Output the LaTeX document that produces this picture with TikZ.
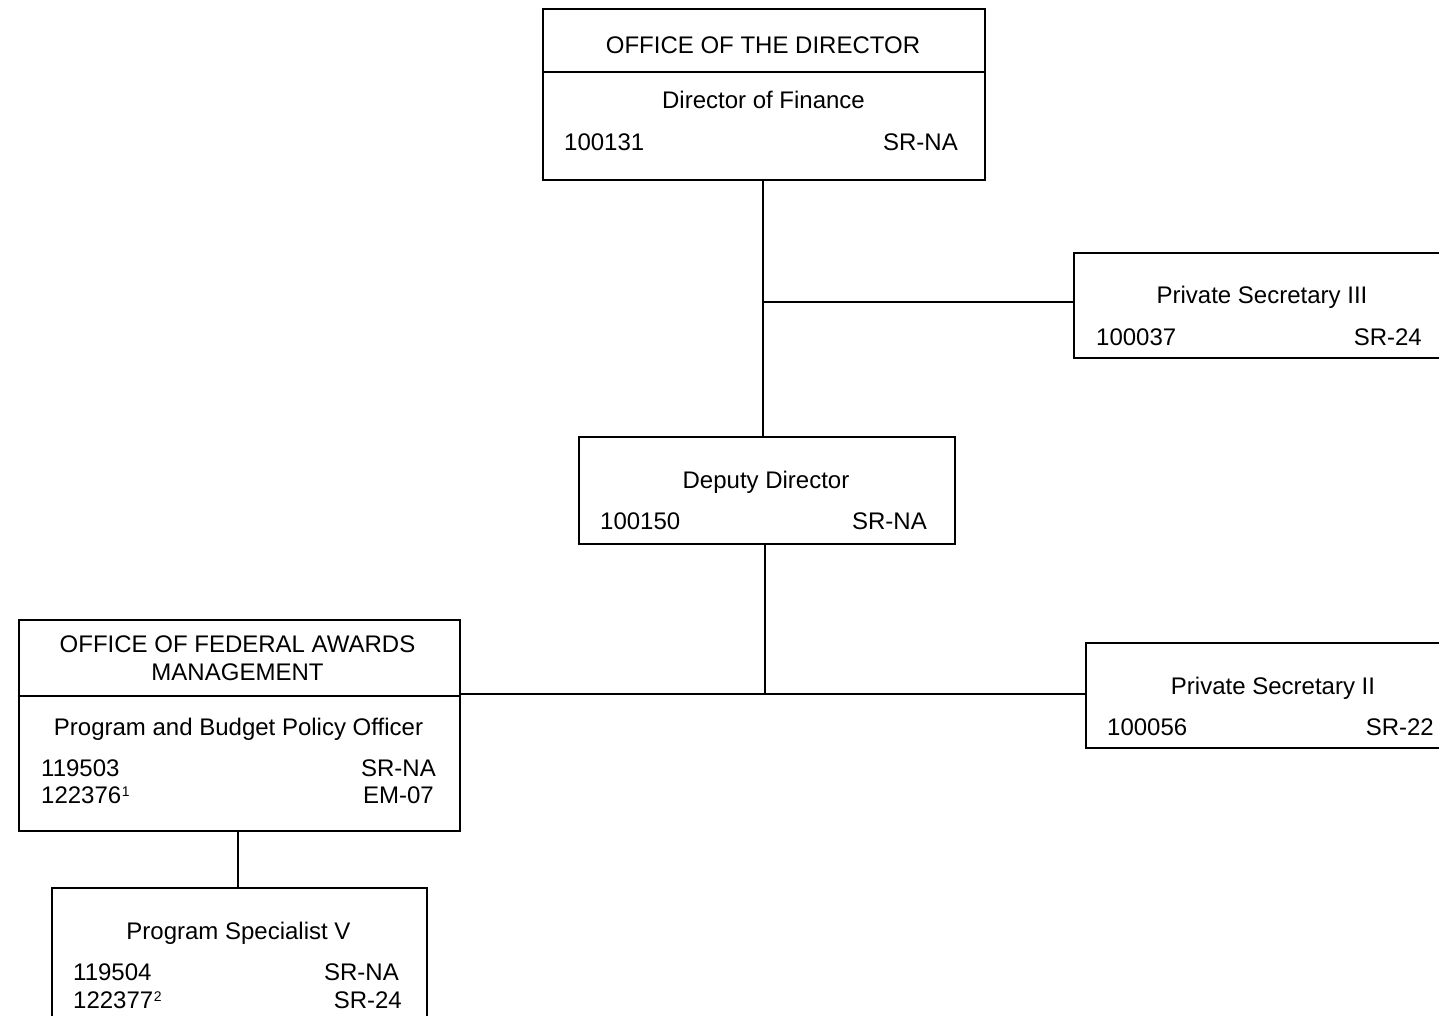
\documentclass[tikz,border=0pt]{standalone}
\usepackage{fontspec}
\setmainfont{Liberation Sans}
\newcommand{\supdig}[1]{\kern0.5pt\raisebox{7.5pt}{\fontsize{14}{14}\selectfont #1}}
\begin{document}
\begin{tikzpicture}[x=1pt,y=-1pt,
  box/.style={draw,line width=2pt,rectangle,inner sep=0pt,anchor=north west},
  conn/.style={line width=2pt},
  txt/.style={inner sep=0pt,font=\fontsize{24}{28}\selectfont},
  ctr/.style={txt,anchor=base},
  lft/.style={txt,anchor=base west},
  rgt/.style={txt,anchor=base east}]
\clip (0,0) rectangle (1439,1016);
% boxes
\node[box,minimum width=442,minimum height=171] (dir) at (542,8) {};
\node[box,minimum width=378,minimum height=105] (ps3) at (1073,252) {};
\node[box,minimum width=376,minimum height=107] (dep) at (578,436) {};
\node[box,minimum width=441,minimum height=211] (fam) at (18,619) {};
\node[box,minimum width=376,minimum height=105] (ps2) at (1085,642) {};
\node[box,minimum width=375,minimum height=160] (psv) at (51,887) {};
% dividers
\draw[conn] (dir.west |- 0,72) -- (dir.east |- 0,72);
\draw[conn] (fam.west |- 0,696) -- (fam.east |- 0,696);
% texts
\node[ctr] (t1) at (763,53.5) {OFFICE OF THE DIRECTOR};
\node[ctr] (t2) at (763.5,108.5) {Director of Finance};
\node[lft] (t3) at (564,150.5) {100131};
\node[rgt] (t4) at (958,150.5) {SR-NA};
\node[ctr] (t5) at (1262,303.5) {Private Secretary III};
\node[lft] (t6) at (1096,345.5) {100037};
\node[rgt] (t7) at (1422,345.5) {SR-24};
\node[ctr] (t8) at (766,488.5) {Deputy Director};
\node[lft] (t9) at (600,529.5) {100150};
\node[rgt] (t10) at (927,529.5) {SR-NA};
\node[ctr] (t11) at (237.5,652.5) {OFFICE OF FEDERAL AWARDS};
\node[ctr] (t12) at (237.5,680.5) {MANAGEMENT};
\node[ctr] (t13) at (238.5,735.5) {Program and Budget Policy Officer};
\node[lft] (t14) at (41,776.5) {119503};
\node[lft] (t15) at (41,803.5) {122376\supdig{1}};
\node[rgt] (t16) at (436,776.5) {SR-NA};
\node[rgt] (t17) at (434,803.5) {EM-07};
\node[ctr] (t18) at (1273,694.5) {Private Secretary II};
\node[lft] (t19) at (1107,735.5) {100056};
\node[rgt] (t20) at (1434,735.5) {SR-22};
\node[ctr] (t21) at (238.5,939.5) {Program Specialist V};
\node[lft] (t22) at (73,980.5) {119504};
\node[lft] (t23) at (73,1008.5) {122377\supdig{2}};
\node[rgt] (t24) at (399,980.5) {SR-NA};
\node[rgt] (t25) at (402,1008.5) {SR-24};
% connectors
\coordinate (j1) at (763,302);
\coordinate (j2) at (765,694);
\draw[conn] (dir.south -| j1) -- (dep.north -| j1);
\draw[conn] (j1) -- (j1 -| ps3.west);
\draw[conn] (dep.south -| j2) -- (j2);
\draw[conn] (j2 -| fam.east) -- (j2 -| ps2.west);
\draw[conn] (fam.south -| 238,0) -- (psv.north -| 238,0);
\end{tikzpicture}
\end{document}
